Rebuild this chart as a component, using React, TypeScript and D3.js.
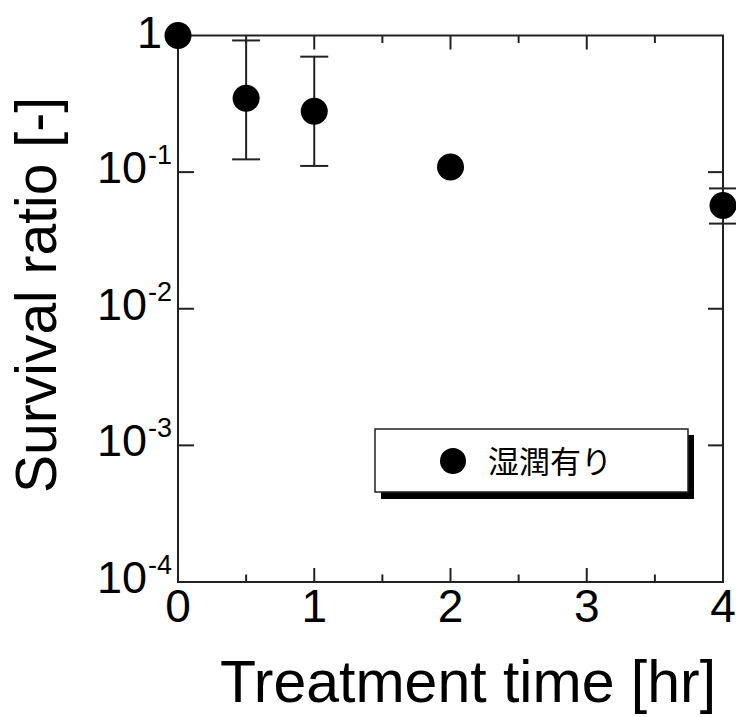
import React from 'react';
import * as d3 from 'd3';

// data
const times = [0, 0.5, 1, 2, 4];
const survival = [1, 0.347, 0.279, 0.109, 0.057];
const errUpper = [null, 0.92, 0.70, null, 0.076];
const errLower = [null, 0.124, 0.111, null, 0.042];
const xTicks = [0, 1, 2, 3, 4];
const xMinorTicks = [0.5, 1.5, 2.5, 3.5];
const yTicks = [1, 1e-1, 1e-2, 1e-3, 1e-4];
const yTickExp = ['', '-1', '-2', '-3', '-4'];
const legendLabel = '湿潤有り';

const W = 736;
const H = 717;
const margin = { top: 35.5, right: 13, bottom: 135, left: 178 };
const font = '"Liberation Sans", Arial, sans-serif';
const axisColor = '#222';

const App = () => {
  const x = d3.scaleLinear().domain([0, 4]).range([margin.left, W - margin.right]);
  const y = d3.scaleLog().domain([1e-4, 1]).range([H - margin.bottom, margin.top]);
  const [x0, x1] = x.range();
  const [y0, y1] = y.range(); // y0 bottom, y1 top
  const r = 13.5;
  const cap = 14;

  return (
    <svg width={W} height={H} style={{ position: 'absolute', left: 0, top: 0, background: '#fff' }}>
      {/* frame */}
      <rect x={x0} y={y1} width={x1 - x0} height={y0 - y1} fill="none" stroke={axisColor} strokeWidth={2} />

      {/* x ticks bottom + top */}
      {xTicks.slice(1, -1).map(t => (
        <g key={'xt' + t} stroke={axisColor} strokeWidth={2}>
          <line x1={x(t)} x2={x(t)} y1={y0} y2={y0 - 14} />
          <line x1={x(t)} x2={x(t)} y1={y1} y2={y1 + 14} />
        </g>
      ))}
      {xMinorTicks.map(t => (
        <g key={'xm' + t} stroke={axisColor} strokeWidth={2}>
          <line x1={x(t)} x2={x(t)} y1={y0} y2={y0 - 7.5} />
          <line x1={x(t)} x2={x(t)} y1={y1} y2={y1 + 7.5} />
        </g>
      ))}
      {xTicks.map(t => (
        <text key={'xl' + t} x={x(t)} y={622} textAnchor="middle" fontFamily={font} fontSize={46} fill="#000">
          {t}
        </text>
      ))}

      {/* y ticks left + right */}
      {yTicks.slice(1, -1).map(t => (
        <g key={'yt' + t} stroke={axisColor} strokeWidth={2}>
          <line x1={x0} x2={x0 + 16} y1={y(t)} y2={y(t)} />
          <line x1={x1} x2={x1 - 15} y1={y(t)} y2={y(t)} />
        </g>
      ))}
      {yTicks.map((t, i) =>
        yTickExp[i] === '' ? (
          <text key={'yl' + i} x={162} y={y(t) + 12} textAnchor="end" fontFamily={font} fontSize={45} fill="#000">
            1
          </text>
        ) : (
          <g key={'yl' + i} fontFamily={font} fill="#000">
            <text x={147} y={y(t) + 11} textAnchor="end" fontSize={45}>10</text>
            <text x={148} y={y(t) - 8} textAnchor="start" fontSize={27}>{yTickExp[i]}</text>
          </g>
        )
      )}

      {/* error bars */}
      {times.map((t, i) =>
        errUpper[i] == null ? null : (
          <g key={'e' + i} stroke={axisColor} strokeWidth={2}>
            <line x1={x(t)} x2={x(t)} y1={y(errUpper[i] as number)} y2={y(errLower[i] as number)} />
            <line x1={x(t) - cap} x2={x(t) + cap} y1={y(errUpper[i] as number)} y2={y(errUpper[i] as number)} />
            <line x1={x(t) - cap} x2={x(t) + cap} y1={y(errLower[i] as number)} y2={y(errLower[i] as number)} />
          </g>
        )
      )}

      {/* points */}
      {times.map((t, i) => (
        <circle key={'p' + i} cx={x(t)} cy={y(survival[i])} r={r} fill="#000" />
      ))}

      {/* legend */}
      <rect x={381} y={435} width={313} height={64} fill="#000" />
      <rect x={375} y={429} width={313} height={63} fill="#fff" stroke={axisColor} strokeWidth={1.5} />
      <circle cx={453} cy={461} r={13} fill="#000" />
      <text x={488} y={473} fontFamily='"Noto Sans CJK JP", sans-serif' fontSize={31} fill="#000">
        {legendLabel}
      </text>

      {/* axis titles */}
      <text x={468} y={702} textAnchor="middle" fontFamily={font} fontSize={59} fill="#000">
        Treatment time [hr]
      </text>
      <text
        transform={`translate(56, 295) rotate(-90)`}
        textAnchor="middle"
        fontFamily={font}
        fontSize={57}
        fill="#000"
      >
        Survival ratio [-]
      </text>
    </svg>
  );
};

export default App;
